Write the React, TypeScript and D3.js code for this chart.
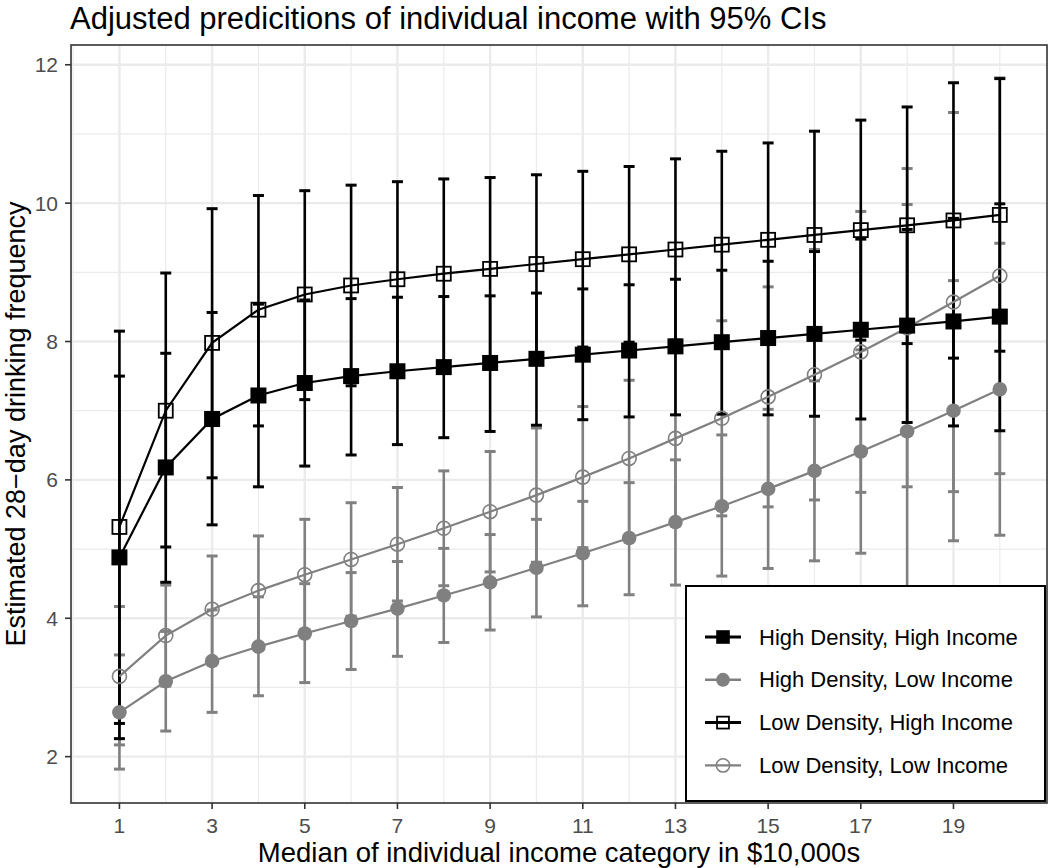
import React from "react";
import * as d3 from "d3";

const incomeCat = [1, 2, 3, 4, 5, 6, 7, 8, 9, 10, 11, 12, 13, 14, 15, 16, 17, 18, 19, 20];
const xTicks = [1, 3, 5, 7, 9, 11, 13, 15, 17, 19];
const xMinor = [0, 2, 4, 6, 8, 10, 12, 14, 16, 18, 20];
const yTicks = [2, 4, 6, 8, 10, 12];
const yMinor = [3, 5, 7, 9, 11];

const hdhiEst = [4.88, 6.18, 6.88, 7.22, 7.40, 7.50, 7.57, 7.63, 7.69, 7.75, 7.81, 7.87, 7.93, 7.99, 8.05, 8.11, 8.17, 8.23, 8.29, 8.36];
const hdhiLo = [2.26, 4.52, 5.35, 5.90, 6.20, 6.36, 6.51, 6.61, 6.70, 6.79, 6.87, 6.91, 6.94, 6.95, 6.94, 6.92, 6.88, 6.83, 6.78, 6.71];
const hdhiHi = [7.50, 7.83, 8.42, 8.54, 8.60, 8.62, 8.64, 8.65, 8.66, 8.70, 8.76, 8.82, 8.90, 9.03, 9.16, 9.30, 9.48, 9.62, 9.78, 9.99];

const hdliEst = [2.64, 3.09, 3.38, 3.59, 3.78, 3.96, 4.14, 4.33, 4.52, 4.73, 4.94, 5.16, 5.39, 5.62, 5.87, 6.13, 6.41, 6.70, 7.00, 7.31];
const hdliLo = [1.82, 2.37, 2.64, 2.88, 3.07, 3.26, 3.45, 3.65, 3.83, 4.02, 4.18, 4.34, 4.48, 4.61, 4.72, 4.83, 4.94, 3.42, 5.12, 5.20];
const hdliHi = [3.47, 3.81, 4.12, 4.31, 4.50, 4.66, 4.82, 5.01, 5.21, 5.43, 5.69, 5.96, 6.29, 6.65, 7.02, 7.43, 7.88, 9.98, 8.88, 9.42];

const ldhiEst = [5.32, 7.00, 7.98, 8.46, 8.68, 8.81, 8.90, 8.98, 9.05, 9.12, 9.19, 9.26, 9.33, 9.40, 9.47, 9.54, 9.61, 9.68, 9.75, 9.83];
const ldhiLo = [2.48, 5.03, 6.03, 6.78, 7.16, 7.36, 7.49, 7.61, 7.73, 7.83, 7.92, 7.99, 8.02, 8.05, 8.07, 8.04, 8.02, 7.97, 7.76, 7.86];
const ldhiHi = [8.15, 8.99, 9.92, 10.11, 10.18, 10.26, 10.31, 10.35, 10.37, 10.41, 10.46, 10.53, 10.64, 10.75, 10.87, 11.04, 11.20, 11.39, 11.74, 11.80];

const ldliEst = [3.16, 3.75, 4.13, 4.40, 4.63, 4.85, 5.07, 5.30, 5.54, 5.78, 6.04, 6.31, 6.60, 6.89, 7.20, 7.52, 7.85, 8.20, 8.57, 8.95];
const ldliLo = [2.17, 3.02, 3.36, 3.61, 3.83, 4.03, 4.25, 4.47, 4.67, 4.81, 5.02, 5.18, 5.34, 5.48, 5.61, 5.71, 5.82, 5.90, 5.83, 6.09];
const ldliHi = [4.17, 4.48, 4.90, 5.19, 5.43, 5.67, 5.89, 6.13, 6.41, 6.75, 7.06, 7.44, 7.86, 8.30, 8.79, 9.33, 9.88, 10.50, 11.31, 11.81];

const seriesNames = [
  "High Density, High Income",
  "High Density, Low Income",
  "Low Density, High Income",
  "Low Density, Low Income",
];

const titleText = "Adjusted predicitions of individual income with 95% CIs";
const xTitle = "Median of individual income category in $10,000s";
const yTitle = "Estimated 28\u2212day drinking frequency";

const FONT = "'Liberation Sans', Arial, Helvetica, sans-serif";
const GRAY = "#808080";

type Series = {
  name: string;
  est: number[];
  lo: number[];
  hi: number[];
  color: string;
  shape: "fsq" | "fci" | "osq" | "oci";
};

const series: Series[] = [
  { name: seriesNames[0], est: hdhiEst, lo: hdhiLo, hi: hdhiHi, color: "#000", shape: "fsq" },
  { name: seriesNames[1], est: hdliEst, lo: hdliLo, hi: hdliHi, color: GRAY, shape: "fci" },
  { name: seriesNames[2], est: ldhiEst, lo: ldhiLo, hi: ldhiHi, color: "#000", shape: "osq" },
  { name: seriesNames[3], est: ldliEst, lo: ldliLo, hi: ldliHi, color: GRAY, shape: "oci" },
];

// draw the gray (low income) series underneath the black ones
const drawOrder = [series[1], series[3], series[0], series[2]];

function Marker({ shape, cx, cy, color, scale = 1 }: { shape: string; cx: number; cy: number; color: string; scale?: number }) {
  if (shape === "fsq") {
    const s = 16 * scale;
    return <rect x={cx - s / 2} y={cy - s / 2} width={s} height={s} fill={color} />;
  }
  if (shape === "osq") {
    const s = 14 * scale;
    return <rect x={cx - s / 2} y={cy - s / 2} width={s} height={s} fill="none" stroke={color} strokeWidth={1.8} />;
  }
  if (shape === "fci") {
    return <circle cx={cx} cy={cy} r={7.3 * scale} fill={color} />;
  }
  return <circle cx={cx} cy={cy} r={7 * scale} fill="none" stroke={color} strokeWidth={1.6} />;
}

export default function App() {
  const W = 1050;
  const H = 868;
  const pL = 71, pR = 1047, pT = 45, pB = 803;
  const x = d3.scaleLinear().domain([-0.03, 21.04]).range([71.7, 1048]);
  const y = d3.scaleLinear().domain([1.33, 12.29]).range([803, 44.7]);
  const line = d3.line<number>().x((_, i) => x(incomeCat[i])).y((d) => y(d));
  const capW = 5.5;

  return (
    <svg width={W} height={H} style={{ position: "absolute", left: 0, top: 0, background: "#fff" }} fontFamily={FONT}>
      <rect x={0} y={0} width={W} height={H} fill="#fff" />
      {/* grid */}
      <g>
        {yMinor.map((v) => (
          <line key={"ym" + v} x1={pL} x2={pR} y1={y(v)} y2={y(v)} stroke="#ebebeb" strokeWidth={1.2} />
        ))}
        {xMinor.map((v) => (
          <line key={"xm" + v} x1={x(v)} x2={x(v)} y1={pT} y2={pB} stroke="#ebebeb" strokeWidth={1.2} />
        ))}
        {yTicks.map((v) => (
          <line key={"yM" + v} x1={pL} x2={pR} y1={y(v)} y2={y(v)} stroke="#ebebeb" strokeWidth={2.4} />
        ))}
        {xTicks.map((v) => (
          <line key={"xM" + v} x1={x(v)} x2={x(v)} y1={pT} y2={pB} stroke="#ebebeb" strokeWidth={2.4} />
        ))}
      </g>
      {/* error bars */}
      <g>
        {drawOrder.map((s) => (
          <g key={"eb" + s.name} stroke={s.color} strokeWidth={2.6}>
            {incomeCat.map((c, i) => (
              <g key={c}>
                <line x1={x(c)} x2={x(c)} y1={y(s.lo[i])} y2={y(s.hi[i])} />
                <line x1={x(c) - capW} x2={x(c) + capW} y1={y(s.lo[i])} y2={y(s.lo[i])} strokeWidth={3} />
                <line x1={x(c) - capW} x2={x(c) + capW} y1={y(s.hi[i])} y2={y(s.hi[i])} strokeWidth={3} />
              </g>
            ))}
          </g>
        ))}
      </g>
      {/* lines */}
      <g>
        {drawOrder.map((s) => (
          <path key={"ln" + s.name} d={line(s.est) || ""} fill="none" stroke={s.color} strokeWidth={2.2} />
        ))}
      </g>
      {/* points */}
      <g>
        {drawOrder.map((s) => (
          <g key={"pt" + s.name}>
            {incomeCat.map((c, i) => (
              <Marker key={c} shape={s.shape} cx={x(c)} cy={y(s.est[i])} color={s.color} />
            ))}
          </g>
        ))}
      </g>
      {/* panel border */}
      <rect x={pL} y={pT} width={pR - pL} height={pB - pT} fill="none" stroke="#333" strokeWidth={1.6} />
      {/* y axis ticks */}
      <g>
        {yTicks.map((v) => (
          <g key={"yt" + v}>
            <line x1={pL - 6} x2={pL} y1={y(v)} y2={y(v)} stroke="#333" strokeWidth={1.6} />
            <text x={pL - 13} y={y(v)} textAnchor="end" dominantBaseline="central" fontSize={21} fill="#4d4d4d">
              {v}
            </text>
          </g>
        ))}
      </g>
      {/* x axis ticks */}
      <g>
        {xTicks.map((v) => (
          <g key={"xt" + v}>
            <line x1={x(v)} x2={x(v)} y1={pB} y2={pB + 6} stroke="#333" strokeWidth={1.6} />
            <text x={x(v)} y={pB + 30} textAnchor="middle" fontSize={21} fill="#4d4d4d">
              {v}
            </text>
          </g>
        ))}
      </g>
      {/* titles */}
      <text x={70} y={29} fontSize={31} fill="#000">{titleText}</text>
      <text x={(pL + pR) / 2} y={862} textAnchor="middle" fontSize={27.5} fill="#000">{xTitle}</text>
      <text transform={`translate(25, ${(pT + pB) / 2}) rotate(-90)`} textAnchor="middle" fontSize={27} fill="#000">
        {yTitle}
      </text>
      {/* legend */}
      <g>
        <rect x={686} y={586} width={359} height={215} fill="#fff" stroke="#000" strokeWidth={2} />
        {series.map((s, i) => {
          const cy = 637 + i * 42.8;
          return (
            <g key={"lg" + s.name}>
              <line x1={705} x2={741} y1={cy} y2={cy} stroke={s.color} strokeWidth={s.color === "#000" ? 3 : 2.4} />
              <Marker shape={s.shape} cx={723} cy={cy} color={s.color} scale={s.shape.endsWith("sq") ? 0.85 : 0.95} />
              <text x={759} y={cy} dominantBaseline="central" fontSize={22} fill="#000">
                {s.name}
              </text>
            </g>
          );
        })}
      </g>
    </svg>
  );
}
